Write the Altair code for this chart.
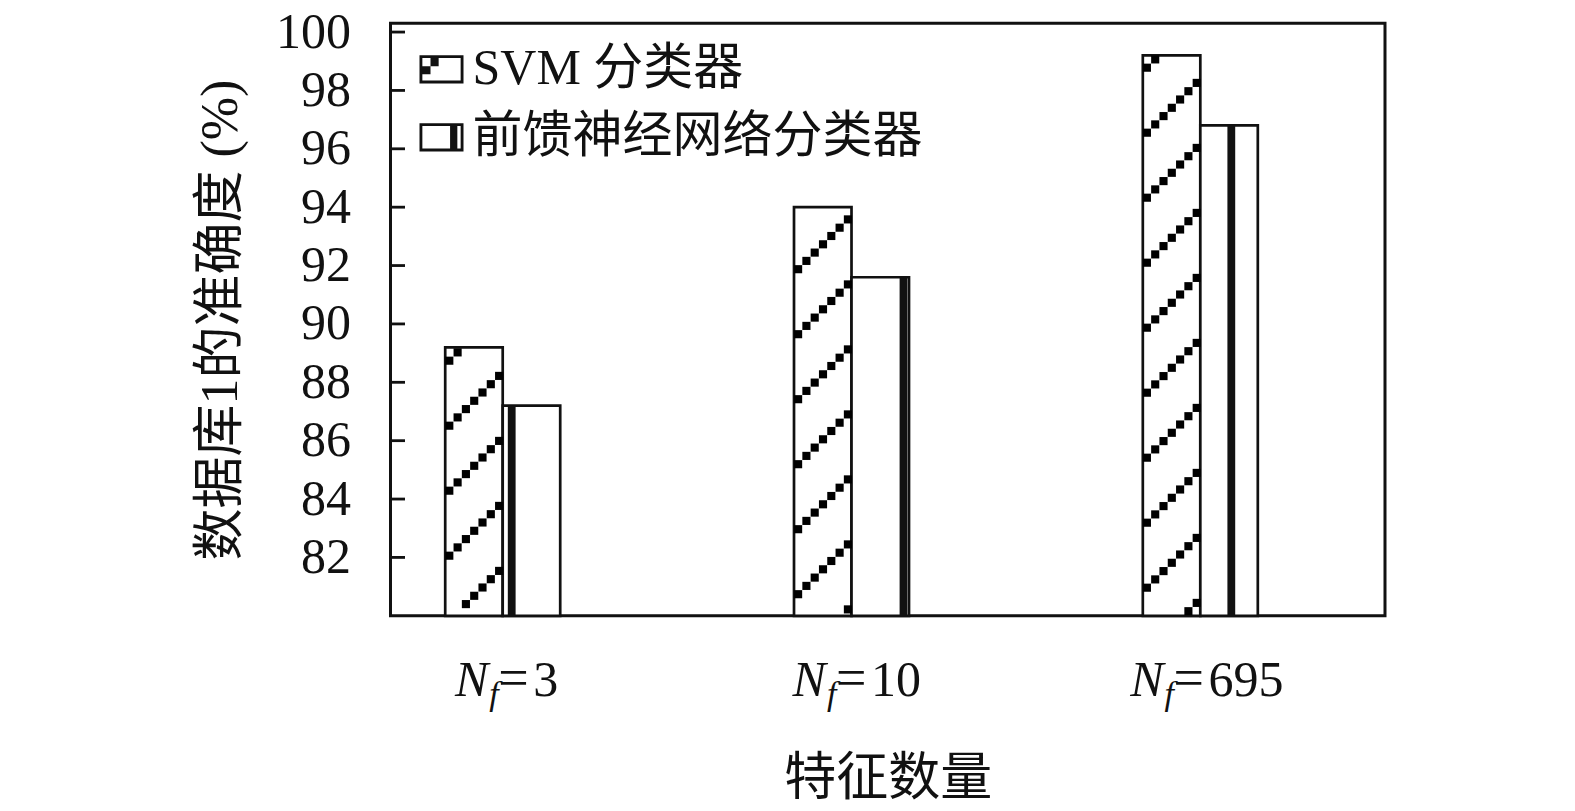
import altair as alt
import pandas as pd

# ---------------- data ----------------
categories = ["3", "10", "695"]
series = ["SVM 分类器", "前馈神经网络分类器"]
svm_values = [89.2, 94.0, 99.2]
fnn_values = [87.2, 91.6, 96.8]
y_ticks = [82, 84, 86, 88, 90, 92, 94, 96, 98, 100]
x_title = "特征数量"
y_title = "数据库1的准确度 (%)"

# ---------------- style ----------------
W, H = 994.5, 592.5
X_DOMAIN = [0.6783, 3.5295]
Y_DOMAIN = [80, 100.3]
XPX = W / (X_DOMAIN[1] - X_DOMAIN[0])
YPX = H / (Y_DOMAIN[1] - Y_DOMAIN[0])
BAR_PX = 57.5
BAR_W = BAR_PX / XPX
STRIPE_PX = [9, 52, 31]          # stripe centre from the FNN bar's left edge
HATCH_PHASE_PX = [56, 17.5, 24]  # hatch phase above the bar bottom
HATCH_PERIOD_PX = 65
SQ_STEP = 8.3
FONT = "Liberation Serif, Noto Sans CJK SC"
INK = "#111111"

xs = alt.Scale(domain=X_DOMAIN, nice=False, zero=False)
ys = alt.Scale(domain=Y_DOMAIN, nice=False, zero=False)
x_axis = alt.Axis(labels=False, ticks=False, domain=False, grid=False,
                  title=x_title, titlePadding=138, titleFontSize=52)
y_axis = alt.Axis(values=y_ticks, ticks=False, domain=False, grid=False,
                  title=y_title, labelPadding=40, titlePadding=28,
                  titleFontSize=52)

# ---------------- tables built from the arrays ----------------
rows = []
for i, c in enumerate(categories):
    rows.append({"cat": c, "series": series[0], "value": svm_values[i], "side": -1})
    rows.append({"cat": c, "series": series[1], "value": fnn_values[i], "side": 0})
bars_df = pd.DataFrame(rows)

cat_expr = "indexof(" + str(categories).replace("'", '"') + ", datum.cat) + 1"

base = alt.Chart(bars_df).transform_calculate(idx=cat_expr).transform_calculate(
    x0=f"datum.idx + datum.side * {BAR_W}",
    x1=f"datum.idx + datum.side * {BAR_W} + {BAR_W}",
)

bars = base.mark_bar(fill="white", stroke=INK, strokeWidth=2.7).encode(
    x=alt.X("x0:Q", scale=xs, axis=x_axis),
    x2="x1:Q",
    y=alt.Y("value:Q", scale=ys, axis=y_axis),
    y2=alt.Y2(datum=80),
)

stripe_df = pd.DataFrame({"cat": categories, "value": fnn_values,
                          "spx": STRIPE_PX})
stripes = alt.Chart(stripe_df).transform_calculate(idx=cat_expr).transform_calculate(
    xs_=f"datum.idx + datum.spx / {XPX}"
).mark_rule(color=INK, strokeWidth=7.8).encode(
    x=alt.X("xs_:Q", scale=xs, axis=x_axis),
    y=alt.Y("value:Q", scale=ys, axis=y_axis),
    y2=alt.Y2(datum=80),
)

# hatch squares (decoration inside the SVM bars)
hatch = []
for i, v in enumerate(svm_values):
    left = (i + 1) - BAR_W
    top_px = (v - Y_DOMAIN[0]) * YPX
    b = HATCH_PHASE_PX[i] - HATCH_PERIOD_PX
    while b <= top_px:
        j = 0
        while True:
            t = 4.1 + SQ_STEP * j
            if t > BAR_PX - 2:
                break
            ypx = b + t
            if 3.5 <= ypx <= top_px - 3.5:
                hatch.append({"hx": left + t / XPX, "hy": Y_DOMAIN[0] + ypx / YPX})
            j += 1
        b += HATCH_PERIOD_PX
hatch_df = pd.DataFrame(hatch)
hatch_layer = alt.Chart(hatch_df).mark_point(
    shape="square", filled=True, size=66, color="#000000", opacity=1, strokeWidth=0
).encode(
    x=alt.X("hx:Q", scale=xs, axis=x_axis),
    y=alt.Y("hy:Q", scale=ys, axis=y_axis),
)

# inward ticks
tick_df = pd.DataFrame({"t": y_ticks})
ticks = alt.Chart(tick_df).mark_rule(color=INK, strokeWidth=2.8).encode(
    y=alt.Y("t:Q", scale=ys, axis=y_axis),
    x=alt.value(0),
    x2=alt.value(14.5),
)

# x labels  N_f=...
lab_df = pd.DataFrame({"cat": categories})
lab = alt.Chart(lab_df).transform_calculate(idx=cat_expr).transform_calculate(
    ax="datum.idx + (5.7 - 11.15 * length(datum.cat)) / " + str(XPX)
)
yb = alt.Y(datum=80, scale=ys, axis=y_axis)
xa = alt.X("ax:Q", scale=xs, axis=x_axis)
lab_N = lab.mark_text(text="N", font="Liberation Serif", fontStyle="italic",
                      fontSize=50, align="right", baseline="alphabetic",
                      dx=-9, dy=80, color=INK).encode(x=xa, y=yb)
lab_f = lab.mark_text(text="f", font="Liberation Serif", fontStyle="italic",
                      fontSize=34, align="left", baseline="alphabetic",
                      dx=-8, dy=89, color=INK).encode(x=xa, y=yb)
lab_eq = lab.mark_text(text="=", font="Liberation Serif", fontSize=54,
                       align="left", baseline="alphabetic",
                       dx=1, dy=80, color=INK).encode(x=xa, y=yb)
lab_num = lab.mark_text(font="Liberation Serif", fontSize=50,
                        align="left", baseline="alphabetic",
                        dx=36, dy=80, color=INK).encode(x=xa, y=yb, text="cat:N")

# legend (shape scale with custom symbol paths)
ring = "M-1,-0.64H1V0.64H-1Z M-0.87,-0.51V0.51H0.87V-0.51Z"
svm_sym = ring + " M-0.87,-0.14H-0.5V0.22H-0.87Z M-0.5,-0.51H-0.13V-0.14H-0.5Z"
fnn_sym = ring + " M0.39,-0.51H0.72V0.51H0.39Z"
legend_layer = alt.Chart(bars_df).transform_filter("false").mark_point(
    filled=True, color=INK, opacity=1
).encode(
    x=alt.X("side:Q", scale=xs, axis=x_axis),
    y=alt.Y("value:Q", scale=ys, axis=y_axis),
    shape=alt.Shape("series:N",
                    scale=alt.Scale(domain=series, range=[svm_sym, fnn_sym]),
                    legend=alt.Legend(title=None, orient="none", legendX=26,
                                      legendY=21, padding=0,
                                      symbolSize=1936, symbolFillColor=INK,
                                      symbolStrokeWidth=0, symbolOpacity=1,
                                      labelFont=FONT, labelFontSize=50,
                                      labelColor=INK, labelOffset=6,
                                      rowPadding=18, labelLimit=0)),
)

chart = alt.layer(
    bars, stripes, hatch_layer, ticks, lab_N, lab_f, lab_eq, lab_num, legend_layer
).properties(
    width=W, height=H,
    autosize=alt.AutoSizeParams(type="none"),
    padding={"left": 382.5, "top": 15.3, "right": 170, "bottom": 190},
).configure_view(
    stroke=INK, strokeWidth=3
).configure_axis(
    labelFont="Liberation Serif", labelFontSize=50, labelColor=INK,
    titleFont=FONT, titleColor=INK, titleFontWeight="normal",
)

chart.save("out.html", embed_options={"renderer": "svg", "actions": False})
